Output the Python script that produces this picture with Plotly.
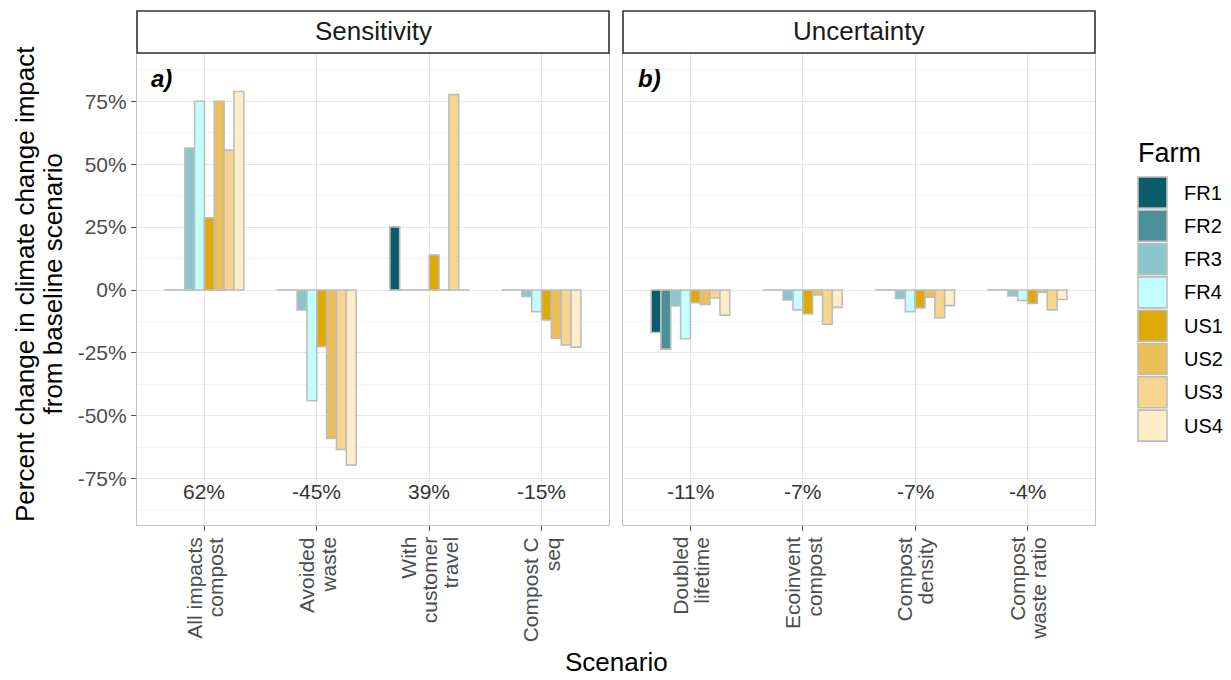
import plotly.graph_objects as go
import numpy as np

W, H = 1231, 680

farms = ["FR1", "FR2", "FR3", "FR4", "US1", "US2", "US3", "US4"]
farm_colors = ["#0A5C6B", "#4B8F99", "#8AC6CC", "#C4FFFF",
               "#DFA906", "#EBBF59", "#F6D58F", "#FFEDC9"]

sens_scenarios = ["All impacts compost", "Avoided waste",
                  "With customer travel", "Compost C seq"]
unc_scenarios = ["Doubled lifetime", "Ecoinvent compost",
                 "Compost density", "Compost waste ratio"]
# wrapped tick labels (one list of lines per scenario)
sens_tick_lines = [["All impacts", "compost"], ["Avoided", "waste"],
                   ["With", "customer", "travel"], ["Compost C", "seq"]]
unc_tick_lines = [["Doubled", "lifetime"], ["Ecoinvent", "compost"],
                  ["Compost", "density"], ["Compost", "waste ratio"]]

# values per farm (percent) for each scenario
sens_FR1 = [0, 0, 25.1, 0]
sens_FR2 = [0, 0, 0, 0]
sens_FR3 = [56.4, -7.9, 0, -2.6]
sens_FR4 = [75.0, -44.0, 0, -8.6]
sens_US1 = [28.7, -22.5, 13.9, -11.9]
sens_US2 = [75.0, -59.0, 0, -19.2]
sens_US3 = [55.6, -63.4, 77.7, -21.8]
sens_US4 = [78.9, -69.6, 0, -22.7]

unc_FR1 = [-16.9, 0, 0, 0]
unc_FR2 = [-23.5, 0, 0, 0]
unc_FR3 = [-6.3, -4.0, -3.4, -2.4]
unc_FR4 = [-19.4, -7.9, -8.6, -4.2]
unc_US1 = [-5.0, -9.5, -7.1, -5.3]
unc_US2 = [-5.7, -2.0, -2.9, -1.0]
unc_US3 = [-3.2, -13.6, -11.0, -7.9]
unc_US4 = [-10.0, -6.9, -6.2, -3.8]

sens_mean = [62, -45, 39, -15]
unc_mean = [-11, -7, -7, -4]
mean_label_y = -80

y_tick_vals = [-75, -50, -25, 0, 25, 50, 75]
y_tick_text = ["-75%", "-50%", "-25%", "0%", "25%", "50%", "75%"]

sens_vals = [sens_FR1, sens_FR2, sens_FR3, sens_FR4, sens_US1, sens_US2, sens_US3, sens_US4]
unc_vals = [unc_FR1, unc_FR2, unc_FR3, unc_FR4, unc_US1, unc_US2, unc_US3, unc_US4]

FONT = "Liberation Sans, Arial, sans-serif"

def px_x(p):
    return p / W

def px_y(p):
    return 1 - p / H

fig = go.Figure()

def shown(v):
    # zero bars drawn as a flat outline at 0
    a = np.array(v, dtype=float)
    return np.where(a == 0, 0.02, a)

for i, f in enumerate(farms):
    fig.add_trace(go.Bar(x=sens_scenarios, y=shown(sens_vals[i]), name=f,
                         marker=dict(color=farm_colors[i], line=dict(color="#BDBDBD", width=1.6)),
                         xaxis="x", yaxis="y", showlegend=False, offsetgroup=f))
    fig.add_trace(go.Bar(x=unc_scenarios, y=shown(unc_vals[i]), name=f,
                         marker=dict(color=farm_colors[i], line=dict(color="#BDBDBD", width=1.6)),
                         xaxis="x2", yaxis="y2", showlegend=False, offsetgroup=f))

panel_top, panel_bot = 54, 525
ya_dom = [px_y(panel_bot), px_y(panel_top)]
xa_dom = [px_x(137), px_x(609)]
xb_dom = [px_x(623), px_x(1095)]
yrange = [-93.4, 93.8]

grid_major = "#E6E6E6"
grid_minor = "#F2F2F2"
border = "#C4C4C4"

common_x = dict(type="category", range=[-0.6, 3.6], showgrid=True, gridcolor=grid_major,
                gridwidth=1.2, showline=True, linecolor=border, linewidth=1.2, mirror=True,
                ticks="outside", ticklen=5, tickcolor="#4D4D4D", tickwidth=1,
                showticklabels=False, zeroline=False, fixedrange=True)
common_y = dict(range=yrange, tickmode="array", tickvals=y_tick_vals, ticktext=y_tick_text,
                showgrid=True, gridcolor=grid_major, gridwidth=1.2, zeroline=False,
                showline=True, linecolor=border, linewidth=1.2, mirror=True,
                minor=dict(tickmode="linear", tick0=12.5, dtick=25, showgrid=True,
                           gridcolor=grid_minor, gridwidth=1, ticks=""),
                fixedrange=True)

fig.update_layout(
    width=W, height=H, margin=dict(l=0, r=0, t=0, b=0),
    paper_bgcolor="white", plot_bgcolor="white",
    barmode="group", bargap=0.3, bargroupgap=0,
    xaxis=dict(domain=xa_dom, anchor="y", **common_x),
    xaxis2=dict(domain=xb_dom, anchor="y2", **common_x),
    yaxis=dict(domain=ya_dom, anchor="x", ticks="outside", ticklen=5, tickcolor="#4D4D4D",
               tickfont=dict(family=FONT, size=21, color="#4D4D4D"), **common_y),
    yaxis2=dict(domain=ya_dom, anchor="x2", showticklabels=False, ticks="", **common_y),
)

ann = []
shapes = []

def A(**kw):
    d = dict(showarrow=False, xanchor="center", yanchor="middle")
    d.update(kw)
    ann.append(d)

# mean labels
for xs, means, xr, yr in [(sens_scenarios, sens_mean, "x", "y"), (unc_scenarios, unc_mean, "x2", "y2")]:
    for s, m in zip(xs, means):
        A(x=s, y=mean_label_y, xref=xr, yref=yr, text=f"{m}%",
          font=dict(family=FONT, size=21, color="#333333"))

# x tick labels, one annotation per line, aligned at the top (rotated)
line_gap = 21.5
for xs, lines_list, xr in [(sens_scenarios, sens_tick_lines, "x"), (unc_scenarios, unc_tick_lines, "x2")]:
    for s, lines in zip(xs, lines_list):
        n = len(lines)
        for j, ln in enumerate(lines):
            A(x=s, y=px_y(535), xref=xr, yref="paper", text=ln, textangle=-90,
              yanchor="top", xshift=(j - (n - 1) / 2) * line_gap,
              font=dict(family=FONT, size=21, color="#4D4D4D"))

# panel tags
A(x=px_x(149), y=px_y(78), xref="paper", yref="paper", xanchor="left",
  text="<b><i>a)</i></b>", font=dict(family=FONT, size=24, color="black"))
A(x=px_x(636), y=px_y(78), xref="paper", yref="paper", xanchor="left",
  text="<b><i>b)</i></b>", font=dict(family=FONT, size=24, color="black"))

# strips
for dom, label in [(xa_dom, "Sensitivity"), (xb_dom, "Uncertainty")]:
    shapes.append(dict(type="rect", xref="paper", yref="paper", x0=dom[0], x1=dom[1],
                       y0=px_y(53), y1=px_y(11), fillcolor="white",
                       line=dict(color="#333333", width=1.6), layer="above"))
    A(x=(dom[0] + dom[1]) / 2, y=px_y(31), xref="paper", yref="paper",
      text=label, font=dict(family=FONT, size=26, color="#1A1A1A"))

# axis titles
A(x=px_x(616), y=px_y(662), xref="paper", yref="paper", text="Scenario",
  font=dict(family=FONT, size=26, color="black"))
ytitle_lines = ["Percent change in climate change impact", "from baseline scenario"]
for j, ln in enumerate(ytitle_lines):
    A(x=px_x(25 + j * 27.5), y=px_y(284), xref="paper", yref="paper", text=ln,
      textangle=-90, font=dict(family=FONT, size=26, color="black"))

# legend
A(x=px_x(1136), y=px_y(153), xref="paper", yref="paper", xanchor="left",
  text="Farm", font=dict(family=FONT, size=27, color="black"))
key_top = 177
key_step = 33.3
for i, f in enumerate(farms):
    t = key_top + i * key_step
    shapes.append(dict(type="rect", xref="paper", yref="paper", x0=px_x(1138), x1=px_x(1167),
                       y0=px_y(t + 31), y1=px_y(t), fillcolor=farm_colors[i],
                       line=dict(color="#BDBDBD", width=1.6)))
    A(x=px_x(1182), y=px_y(t + 15.5), xref="paper", yref="paper", xanchor="left",
      text=f, font=dict(family=FONT, size=20, color="black"))

fig.update_layout(annotations=ann, shapes=shapes)
fig.write_html("out.html", config={"displayModeBar": False},
               post_script="document.body.style.margin='0px';")
